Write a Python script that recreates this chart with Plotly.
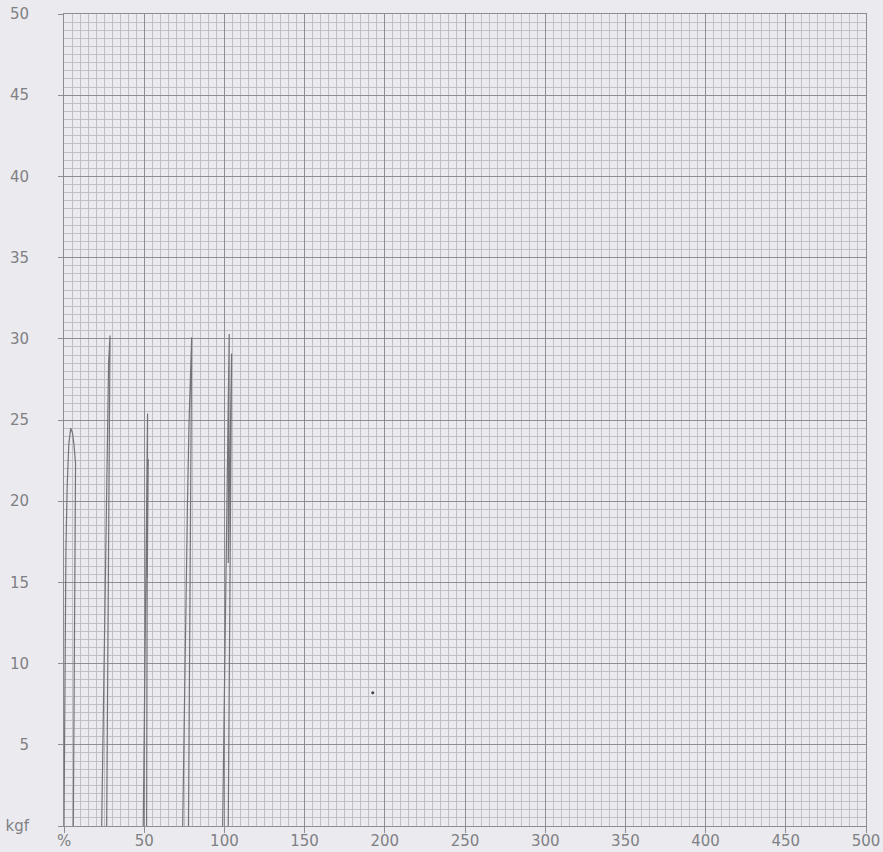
import plotly.graph_objects as go

# ---- data (x: elongation %, y: load kgf) ----
c1_x = [0, 0.5, 1.2, 2.0, 3.0, 4.2, 5.3, 6.3, 7.2, 5.8]
c1_y = [0, 10, 17, 21, 23.5, 24.5, 24.2, 23.4, 22.3, 0]

c2_x = [23.5, 24.2, 24.9, 25.7, 26.5, 27.1, 27.8, 28.7, 26.6]
c2_y = [0, 5, 10, 15, 20, 25, 28.5, 30.2, 0]

c3_x = [49.4, 49.9, 50.4, 50.9, 51.4, 51.8, 52.1, 51.5]
c3_y = [0, 5, 10, 15, 20, 23.5, 25.4, 0]
c3b_x = [52.5, 51.9]
c3b_y = [22.6, 15.3]

c4_x = [74.0, 74.7, 75.4, 76.2, 77.0, 78.0, 78.8, 79.6, 77.6]
c4_y = [0, 5, 10, 15, 20, 25, 28.5, 30.1, 0]

c5_x = [98.9, 99.6, 100.3, 101.0, 101.7, 102.3, 102.7, 103.0, 102.4, 104.5, 102.4]
c5_y = [0, 5, 10, 15, 20, 25, 28.5, 30.3, 16.2, 29.1, 0]

speck_x = [192.5]
speck_y = [8.2]

x_tickvals = [0, 50, 100, 150, 200, 250, 300, 350, 400, 450, 500]
x_ticktext = ["%", "50", "100", "150", "200", "250", "300", "350", "400", "450", "500"]
y_tickvals = [0, 5, 10, 15, 20, 25, 30, 35, 40, 45, 50]
y_ticktext = ["kgf", "5", "10", "15", "20", "25", "30", "35", "40", "45", "50"]

PAPER = "#ebebef"
MINOR = "#c0bfc6"
MAJOR = "#8e8d93"
INK = "#747478"
TEXT = "#808084"

fig = go.Figure()
line = dict(color=INK, width=1.2)
for xs, ys in [(c1_x, c1_y), (c2_x, c2_y), (c3_x, c3_y), (c3b_x, c3b_y),
               (c4_x, c4_y), (c5_x, c5_y)]:
    fig.add_trace(go.Scatter(x=xs, y=ys, mode="lines", line=line,
                             hoverinfo="skip", showlegend=False))
fig.add_trace(go.Scatter(x=speck_x, y=speck_y, mode="markers",
                         marker=dict(color="#444448", size=3),
                         hoverinfo="skip", showlegend=False))
# invisible helper trace so the tick-mark overlay axis is drawn
fig.add_trace(go.Scatter(x=[0], y=[0], xaxis="x2", mode="markers",
                         marker=dict(opacity=0), hoverinfo="skip",
                         showlegend=False))

fig.update_layout(
    width=883, height=852,
    margin=dict(l=64, r=17, t=14, b=26, autoexpand=False),
    paper_bgcolor=PAPER, plot_bgcolor=PAPER,
    font=dict(family="DejaVu Sans", size=15, color=TEXT),
    showlegend=False,
    xaxis=dict(
        range=[0, 500], tickvals=x_tickvals, ticktext=x_ticktext,
        showgrid=True, gridcolor=MAJOR, gridwidth=1,
        minor=dict(dtick=5, tick0=0, showgrid=True, gridcolor=MINOR, gridwidth=1),
        ticks="outside", ticklen=1, tickcolor=MAJOR, tickwidth=1,
        showline=True, linecolor=MAJOR, linewidth=1, mirror=True,
        zeroline=False, fixedrange=True, automargin=False,
    ),
    xaxis2=dict(
        overlaying="x", side="bottom", range=[0, 500], tickvals=x_tickvals,
        showticklabels=False, showgrid=False, zeroline=False,
        ticks="outside", ticklen=6, tickcolor=MAJOR, tickwidth=1,
        fixedrange=True, automargin=False,
    ),
    yaxis=dict(
        range=[0, 50], tickvals=y_tickvals, ticktext=y_ticktext,
        showgrid=True, gridcolor=MAJOR, gridwidth=1,
        minor=dict(dtick=0.5, tick0=0, showgrid=True, gridcolor=MINOR, gridwidth=1),
        ticks="outside", ticklen=5, tickcolor=MAJOR, tickwidth=1,
        ticklabelstandoff=26,
        showline=True, linecolor=MAJOR, linewidth=1, mirror=True,
        zeroline=False, fixedrange=True, automargin=False,
    ),
)

fig.write_html(
    "out.html",
    config={"displayModeBar": False},
    post_script="document.body.style.margin='0';document.body.style.overflow='hidden';",
)
